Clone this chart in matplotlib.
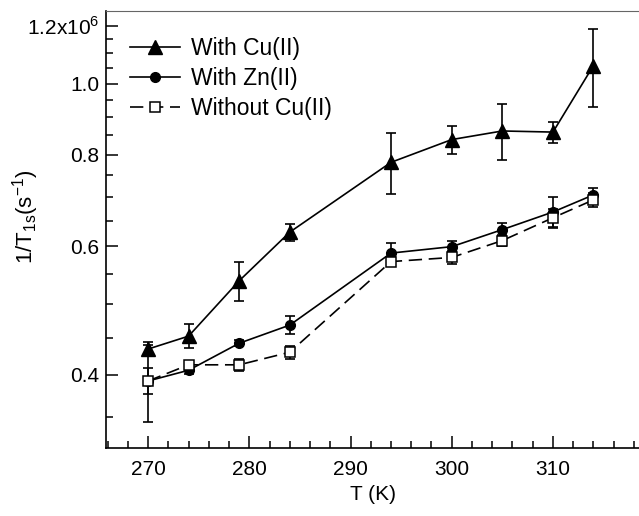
import matplotlib
matplotlib.use("Agg")
import matplotlib.pyplot as plt
from matplotlib.ticker import FixedLocator, FixedFormatter, MultipleLocator, NullFormatter

plt.rcParams['font.family'] = ['Liberation Sans', 'DejaVu Sans']
plt.rcParams['mathtext.fontset'] = 'custom'
plt.rcParams['mathtext.rm'] = 'Liberation Sans'

# temperature (K)
T = [270, 274, 279, 284, 294, 300, 305, 310, 314]

# 1/T1s in units of 1e6 s^-1
cu = [0.434, 0.452, 0.538, 0.627, 0.781, 0.839, 0.862, 0.859, 1.059]
cu_err = [0.010, 0.017, 0.033, 0.017, 0.075, 0.036, 0.075, 0.028, 0.13]

zn = [0.3925, 0.406, 0.442, 0.468, 0.587, 0.599, 0.632, 0.668, 0.705]
zn_err = [0.016, 0.005, 0.004, 0.013, 0.019, 0.010, 0.013, 0.033, 0.016]

nocu = [0.3925, 0.413, 0.413, 0.4297, 0.5715, 0.579, 0.6106, 0.656, 0.694]
nocu_err = [0.047, 0.005, 0.008, 0.009, 0.008, 0.012, 0.010, 0.018, 0.015]

yticks = [0.4, 0.6, 0.8, 1.0, 1.2]
ytick_labels = ['0.4', '0.6', '0.8', '1.0', r'1.2x10$^6$']

fig = plt.figure(figsize=(6.39, 5.16), dpi=100)
ax = fig.add_axes([0.166, 0.132, 0.834, 0.847])

# error bars first, then lines + markers on top
for y, e in [(cu, cu_err), (zn, zn_err), (nocu, nocu_err)]:
    ax.errorbar(T, y, yerr=e, fmt='none', ecolor='black', elinewidth=1.2,
                capsize=3.5, capthick=1.2, zorder=2)

ax.plot(T, cu, color='black', lw=1.2, marker='^', ms=9.5, mfc='black',
        label='With Cu(II)', zorder=3)
ax.plot(T, zn, color='black', lw=1.2, marker='o', ms=7, mfc='black',
        label='With Zn(II)', zorder=3)
ax.plot(T, nocu, color='black', lw=1.2, marker='s', ms=6.5, mfc='white',
        mew=1.1, ls=(0, (8, 4)), label='Without Cu(II)', zorder=3)

ax.set_yscale('log')
ax.set_xlim(265.85, 318.5)
ax.set_ylim(0.318, 1.258)

ax.yaxis.set_major_locator(FixedLocator(yticks))
ax.yaxis.set_major_formatter(FixedFormatter(ytick_labels))
ax.yaxis.set_minor_locator(FixedLocator([0.35, 0.45, 0.5, 0.55, 0.65, 0.7, 0.75,
                                         0.85, 0.9, 0.95, 1.05, 1.1, 1.15]))
ax.yaxis.set_minor_formatter(NullFormatter())
ax.xaxis.set_major_locator(MultipleLocator(10))
ax.xaxis.set_minor_locator(MultipleLocator(2))

ax.tick_params(which='both', direction='in', labelsize=15, width=1.1)
ax.tick_params(which='major', length=8.5)
ax.tick_params(which='minor', length=5)
ax.tick_params(axis='x', pad=9)
ax.tick_params(axis='y', pad=5)

ax.spines['right'].set_visible(False)
ax.spines['top'].set_color('#666666')
for s in ['left', 'bottom']:
    ax.spines[s].set_linewidth(1.2)

ax.set_xlabel('T (K)', fontsize=15, labelpad=4)
ax.set_ylabel(r'1/T$_{\rm 1s}$(s$^{-1}$)', fontsize=16)
ax.yaxis.set_label_coords(-0.122, 0.529)

ax.legend(loc='upper left', frameon=False, fontsize=16.5, handlelength=2.2,
          handletextpad=0.45, labelspacing=0.3, borderpad=0, borderaxespad=0,
          bbox_to_anchor=(0.045, 0.94))

fig.savefig('out.png', dpi=100)
